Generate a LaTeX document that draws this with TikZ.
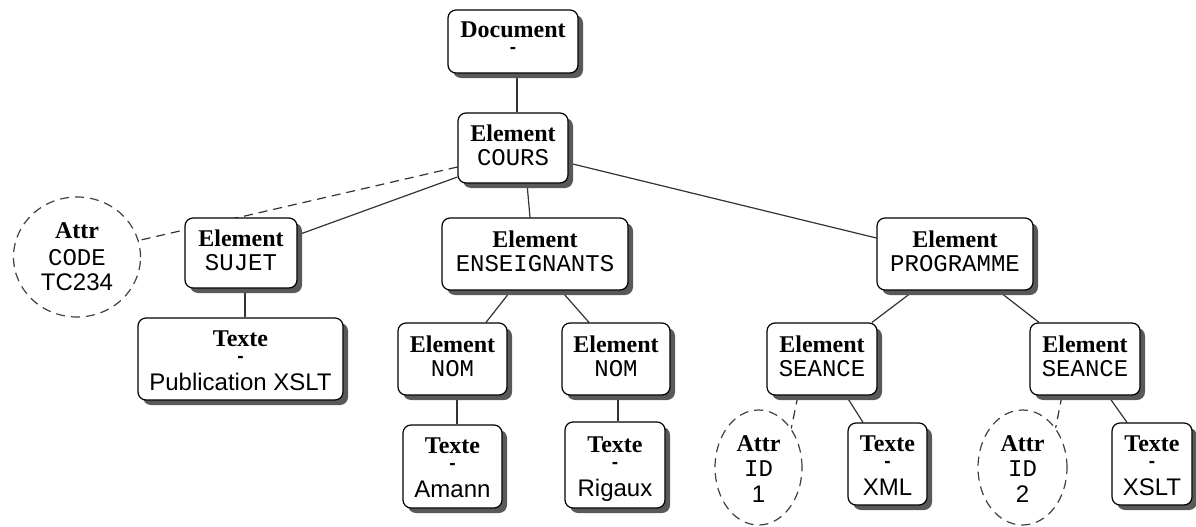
\documentclass[tikz,border=0pt]{standalone}
\usepackage{fontspec}
\setmainfont{Liberation Serif}
\setsansfont{Liberation Sans}
\setmonofont{Liberation Mono}
\usetikzlibrary{shapes.geometric,shadows,backgrounds}

% centred stack of lines, each line with a fixed height and depth
\newcommand\tstack[1]{\vbox{\offinterlineskip\halign{\hfil##\hfil\cr#1\crcr}}}
\newcommand\hd[2]{\vrule height #1pt depth #2pt width 0pt\relax}
\newcommand\dashmark{{\sffamily\bfseries\fontsize{19}{19}\selectfont -}}

% node contents
\newcommand\elemtext[2]{\tstack{\hd{18}{6.5}\bfseries #1\cr\hd{18}{7.5}\ttfamily #2}}
\newcommand\textetext[1]{\tstack{\hd{25}{7}\bfseries Texte\cr\hd{9}{0}\dashmark\cr\hd{28}{7}\sffamily #1}}
\newcommand\doctext[1]{\tstack{\hd{27}{7}\bfseries #1\cr\hd{9}{20}\dashmark}}
\newcommand\attrcode[2]{\tstack{\hd{17}{7}\bfseries Attr\cr\hd{20}{7}\ttfamily #1\cr\hd{18}{3}\sffamily #2}}
\newcommand\attrid[2]{\tstack{\hd{20}{7}\bfseries Attr\cr\hd{18}{7}\ttfamily #1\cr\hd{19}{1}\sffamily #2}}

\tikzset{
  box/.style={draw=black, line width=1.2pt, fill=white, rounded corners=8pt,
    inner sep=0pt, font=\fontsize{24}{27}\selectfont,
    drop shadow={shadow xshift=5pt, shadow yshift=-5pt, fill=black!65, opacity=1}},
  attr/.style={ellipse, draw=black!75, line width=1.2pt, dash pattern=on 9pt off 6pt,
    fill=white, inner sep=0pt, font=\fontsize{24}{27}\selectfont},
  link/.style={draw=black!80, line width=1.2pt},
  attrlink/.style={link, dash pattern=on 9pt off 6pt},
}

\begin{document}
\begin{tikzpicture}[x=1pt, y=-1pt]
\useasboundingbox (0,0) rectangle (1196,527);

% tree of elements
\node[box, minimum width=130pt, minimum height=63pt] (doc) at (513,41.5) {\doctext{Document}};
\node[box, minimum width=110pt, minimum height=70pt] (cours) at (513,148) {\elemtext{Element}{COURS}};
\node[box, minimum width=112pt, minimum height=70pt] (sujet) at (241,253) {\elemtext{Element}{SUJET}};
\node[box, minimum width=186pt, minimum height=72pt] (ens) at (535,254) {\elemtext{Element}{ENSEIGNANTS}};
\node[box, minimum width=156pt, minimum height=72pt] (prog) at (955,254) {\elemtext{Element}{PROGRAMME}};
\node[box, minimum width=109pt, minimum height=72pt] (nom1) at (452.5,359) {\elemtext{Element}{NOM}};
\node[box, minimum width=108pt, minimum height=72pt] (nom2) at (616,359) {\elemtext{Element}{NOM}};
\node[box, minimum width=110pt, minimum height=72pt] (seance1) at (822,359) {\elemtext{Element}{SEANCE}};
\node[box, minimum width=110pt, minimum height=72pt] (seance2) at (1085,359) {\elemtext{Element}{SEANCE}};

% text leaves
\node[box, minimum width=205pt, minimum height=82pt] (pub) at (240.5,359) {\textetext{Publication XSLT}};
\node[box, minimum width=99pt, minimum height=83pt] (amann) at (452.5,466.5) {\textetext{Amann}};
\node[box, minimum width=100pt, minimum height=86pt] (rigaux) at (615,465) {\textetext{Rigaux}};
\node[box, minimum width=79pt, minimum height=82pt] (xml) at (887.5,464) {\textetext{XML}};
\node[box, minimum width=80pt, minimum height=82pt] (xslt) at (1152,464) {\textetext{XSLT}};

% attributes
\node[attr, minimum width=127pt, minimum height=120pt] (code) at (77,257) {\attrcode{CODE}{TC234}};
\node[attr, minimum width=87pt, minimum height=115pt] (id1) at (758.5,467.5) {\attrid{ID}{1}};
\node[attr, minimum width=89pt, minimum height=115pt] (id2) at (1022.5,467.5) {\attrid{ID}{2}};

% edges
\begin{scope}[on background layer]
\draw[link] ([xshift=4pt]doc.south) -- ([xshift=4pt]cours.north);
\draw[link] ([yshift=-29pt]cours.west) -- ([yshift=18pt]sujet.east);
\draw[attrlink] ([yshift=-19pt]cours.west) -- (code.15);
\draw[link] ([xshift=14pt]cours.south) -- ([xshift=-5pt]ens.north);
\draw[link] ([yshift=-15pt]cours.east) -- ([yshift=16pt]prog.west);
\draw[link] ([xshift=4pt]sujet.south) -- ([xshift=4.5pt]pub.north);
\draw[link] ([xshift=-24pt]ens.south) -- ([xshift=33.5pt]nom1.north);
\draw[link] ([xshift=26pt]ens.south) -- ([xshift=-27pt]nom2.north);
\draw[link] ([xshift=4.5pt]nom1.south) -- ([xshift=4.5pt]amann.north);
\draw[link] ([xshift=2pt]nom2.south) -- ([xshift=3pt]rigaux.north);
\draw[link] ([xshift=-41pt]prog.south) -- ([xshift=50pt]seance1.north);
\draw[link] ([xshift=43pt]prog.south) -- ([xshift=-46pt]seance2.north);
\draw[link] ([xshift=24pt]seance1.south) -- ([xshift=-24.5pt]xml.north);
\draw[attrlink] ([xshift=-24pt]seance1.south) -- (id1.50);
\draw[link] ([xshift=23pt]seance2.south) -- ([xshift=-25pt]xslt.north);
\draw[attrlink] ([xshift=-23pt]seance2.south) -- (id2.50);
\end{scope}
\end{tikzpicture}
\end{document}
